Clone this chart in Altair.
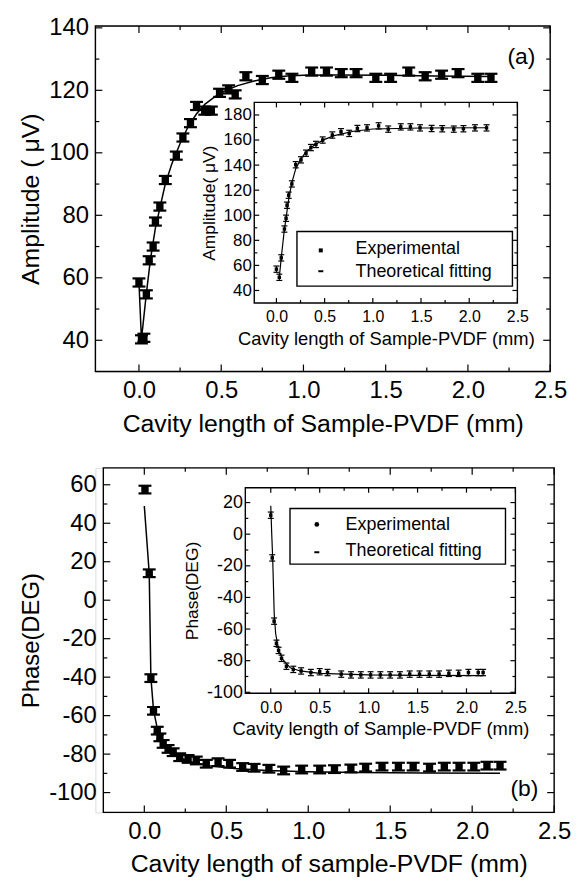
import altair as alt
import pandas as pd

FONT = "Liberation Sans"

# ---------------- data ----------------
# (a) main: amplitude (uV) vs cavity length (mm)
A_X = [0.0, 0.015, 0.03, 0.045, 0.062, 0.086, 0.10, 0.127, 0.16, 0.227, 0.267, 0.313, 0.35,
       0.40, 0.44, 0.49, 0.545, 0.585, 0.65, 0.75, 0.85, 0.93, 1.05, 1.14, 1.23, 1.32, 1.44,
       1.53, 1.64, 1.74, 1.84, 1.94, 2.06, 2.14]
A_Y = [58.5, 40.3, 40.8, 54.7, 65.6, 70.0, 78.0, 82.8, 91.3, 99.1, 104.9, 109.5, 115.0,
       113.5, 113.5, 119.2, 120.3, 118.7, 124.5, 123.3, 125.0, 124.0, 126.0, 126.0, 125.5, 125.5, 124.0,
       124.0, 126.0, 124.5, 125.0, 125.5, 124.0, 124.0]
A_ERR = 1.3
A_FIT_X = [0.0, 0.015, 0.045, 0.07, 0.10, 0.13, 0.16, 0.20, 0.25, 0.30, 0.35, 0.40, 0.45,
           0.50, 0.60, 0.70, 0.80, 0.90, 1.00, 1.20, 1.50, 1.80, 2.14]
A_FIT_Y = [58.5, 40.3, 55.0, 66.0, 76.0, 83.0, 90.0, 96.5, 103.0, 108.5, 112.5, 115.5, 117.5,
           119.3, 121.5, 123.0, 124.0, 124.6, 124.8, 124.9, 124.8, 124.6, 124.4]

# (a) inset
AI_X = [0.0, 0.03, 0.05, 0.083, 0.10, 0.11, 0.127, 0.16, 0.20, 0.255, 0.307, 0.358, 0.41, 0.48,
        0.58, 0.67, 0.755, 0.84, 0.94, 1.06, 1.16, 1.29, 1.39, 1.49, 1.61, 1.72, 1.84, 1.94, 2.06, 2.18]
AI_Y = [57.0, 50.5, 66.0, 89.0, 97.6, 108.0, 116.0, 125.0, 140.3, 144.2, 149.5, 154.0, 156.5, 160.0,
        164.0, 166.6, 165.3, 169.2, 169.7, 171.3, 168.7, 170.5, 170.5, 169.7, 169.2, 169.0, 168.7, 169.0, 169.7, 169.7]
AI_ERR = 2.5
AI_FIT_X = [0.03, 0.05, 0.08, 0.10, 0.13, 0.16, 0.20, 0.25, 0.30, 0.40, 0.50, 0.60, 0.80, 1.00, 1.50, 2.18]
AI_FIT_Y = [50.5, 66.0, 87.0, 98.0, 114.0, 126.0, 137.0, 144.5, 150.0, 156.5, 160.5, 163.5, 167.0, 168.8, 169.6, 169.8]

# (b) main: phase (deg) vs cavity length (mm)
B_X = [0.004, 0.03, 0.04, 0.056, 0.079, 0.095, 0.115, 0.145, 0.176, 0.216, 0.267, 0.317, 0.378,
       0.45, 0.52, 0.60, 0.67, 0.76, 0.85, 0.96, 1.07, 1.16, 1.26, 1.35, 1.45, 1.55, 1.64, 1.74,
       1.83, 1.92, 2.01, 2.09, 2.17]
B_Y = [57.5, 14.0, -40.5, -57.5, -67.8, -71.3, -74.7, -77.3, -79.0, -81.6, -82.5, -83.3, -85.0,
       -84.2, -85.0, -86.7, -87.1, -87.6, -88.5, -88.0, -88.0, -87.8, -87.5, -87.0, -86.5, -86.5, -86.5, -87.0,
       -86.5, -86.5, -86.5, -86.0, -86.0]
B_ERR = 2.0
B_FIT_X = [0.0, 0.03, 0.04, 0.056, 0.08, 0.10, 0.13, 0.17, 0.22, 0.30, 0.40, 0.55, 0.75, 1.0, 1.3, 1.7, 2.17]
B_FIT_Y = [49.0, 14.0, -40.0, -57.0, -67.0, -72.0, -76.5, -79.5, -82.0, -84.5, -86.0, -87.5, -88.5,
           -89.2, -89.6, -89.8, -90.0]

# (b) inset
BI_X = [0.0, 0.015, 0.034, 0.058, 0.08, 0.11, 0.16, 0.23, 0.31, 0.41, 0.50, 0.58, 0.72, 0.82, 0.92,
        1.02, 1.12, 1.22, 1.32, 1.42, 1.52, 1.62, 1.72, 1.82, 1.92, 2.02, 2.12, 2.17]
BI_Y = [12.0, -15.0, -55.0, -69.0, -73.5, -78.5, -83.5, -85.5, -86.5, -87.5, -87.0, -87.5, -88.5, -89.0,
        -89.0, -89.0, -89.0, -89.0, -89.0, -88.5, -88.5, -88.5, -88.5, -88.0, -88.0, -87.5, -87.5, -87.5]
BI_ERR = 2.0
BI_FIT_X = [0.0, 0.01, 0.02, 0.035, 0.05, 0.08, 0.12, 0.20, 0.30, 0.50, 1.00, 1.50, 2.17]
BI_FIT_Y = [18.0, 0.0, -16.0, -50.0, -63.0, -73.0, -79.0, -84.5, -86.5, -88.0, -89.0, -89.3, -89.5]

# tick values
X_MAJOR = [0.0, 0.5, 1.0, 1.5, 2.0, 2.5]
X_MINOR = [0.25, 0.75, 1.25, 1.75, 2.25]
A_Y_MAJOR = [40, 60, 80, 100, 120, 140]
A_Y_MINOR = [50, 70, 90, 110, 130]
AI_Y_MAJOR = [40, 60, 80, 100, 120, 140, 160, 180]
AI_Y_MINOR = [50, 70, 90, 110, 130, 150, 170]
B_Y_MAJOR = [-100, -80, -60, -40, -20, 0, 20, 40, 60]
B_Y_MINOR = [-90, -70, -50, -30, -10, 10, 30, 50]
BI_Y_MAJOR = [-100, -80, -60, -40, -20, 0, 20]
BI_Y_MINOR = [-90, -70, -50, -30, -10, 10]

LEGEND_LABELS = ["Experimental", "Theoretical fitting"]

ONE = pd.DataFrame({"k": [0]})
HYPHEN = "replace(datum.label, '\u2212', '-')"


def err_df(xs, ys, e):
    return pd.DataFrame({"x": xs, "y": ys,
                         "lo": [v - e for v in ys], "hi": [v + e for v in ys]})


def fit_df(xs, ys):
    return pd.DataFrame({"x": xs, "y": ys})


def box(x0, x1, y0, y1, fill="white", opacity=1.0):
    return alt.Chart(ONE).mark_rect(fill=fill, fillOpacity=opacity, stroke="black",
                                    strokeWidth=1.4).encode(
        x=alt.value(x0), x2=alt.value(x1), y=alt.value(y0), y2=alt.value(y1))


def tick_layers(xs, ys, xa, ya, xmaj, xmin, ymaj, ymin, x0, x1, y0, y1, lmaj, lmin):
    out = []
    for vals, L in ((xmaj, lmaj), (xmin, lmin)):
        c = alt.Chart(pd.DataFrame({"v": vals})).mark_rule(color="black", strokeWidth=1.2)
        out.append(c.encode(x=alt.X("v:Q", scale=xs, axis=xa), y=alt.value(y1), y2=alt.value(y1 - L)))
        out.append(c.encode(x=alt.X("v:Q", scale=xs, axis=xa), y=alt.value(y0), y2=alt.value(y0 + L)))
    for vals, L in ((ymaj, lmaj), (ymin, lmin)):
        c = alt.Chart(pd.DataFrame({"v": vals})).mark_rule(color="black", strokeWidth=1.2)
        out.append(c.encode(y=alt.Y("v:Q", scale=ys, axis=ya), x=alt.value(x0), x2=alt.value(x0 + L)))
        out.append(c.encode(y=alt.Y("v:Q", scale=ys, axis=ya), x=alt.value(x1), x2=alt.value(x1 - L)))
    return out


def data_layers(df, fit, xs, ys, xa, ya, msize, cap, lw, capw):
    base = alt.Chart(df)
    ex = alt.X("x:Q", scale=xs, axis=xa)
    line = alt.Chart(fit).mark_line(color="black", strokeWidth=lw).encode(
        x=ex, y=alt.Y("y:Q", scale=ys, axis=ya))
    bars = base.mark_rule(color="black", strokeWidth=capw).encode(
        x=ex, y=alt.Y("lo:Q", scale=ys, axis=ya), y2="hi:Q")
    clo = base.mark_tick(orient="horizontal", size=cap, thickness=capw, color="black", opacity=1).encode(
        x=ex, y=alt.Y("lo:Q", scale=ys, axis=ya))
    chi = base.mark_tick(orient="horizontal", size=cap, thickness=capw, color="black", opacity=1).encode(
        x=ex, y=alt.Y("hi:Q", scale=ys, axis=ya))
    pts = base.mark_point(shape="square", filled=True, size=msize, color="black", opacity=1).encode(
        x=ex, y=alt.Y("y:Q", scale=ys, axis=ya))
    return [line, bars, clo, chi, pts]


def axis(orient, values, title, lsize, tsize, lpad, tpad, offset=0, fmt=None):
    kw = dict(orient=orient, values=values, title=title, domain=False, ticks=False, grid=False,
              labelFontSize=lsize, titleFontSize=tsize, labelPadding=lpad, titlePadding=tpad,
              labelFont=FONT, titleFont=FONT, labelColor="black", titleColor="black",
              titleFontWeight="normal", labelFlush=False, labelOverlap=False, offset=offset,
              labelExpr=HYPHEN)
    if fmt:
        kw["format"] = fmt
    return alt.Axis(**kw)


def panel(W, H, m, ins, leg, tag):
    # main group
    mxs = alt.Scale(domain=m["xdom"], range=[m["x0"], m["x1"]], nice=False, zero=False)
    mys = alt.Scale(domain=m["ydom"], range=[H, 0], nice=False, zero=False)
    mxa = axis("bottom", X_MAJOR, m["xtitle"], 24, 25, 7, 9, fmt=".1f")
    mya = axis("left", m["ymaj"], m["ytitle"], 24, m["ytsize"], 7, 5, offset=-m["x0"])
    main = [box(m["x0"], m["x1"], 0, H, fill="white", opacity=0)]
    main += tick_layers(mxs, mys, mxa, mya, X_MAJOR, X_MINOR, m["ymaj"], m["ymin"],
                        m["x0"], m["x1"], 0, H, 7, 4)
    main += data_layers(m["df"], m["fit"], mxs, mys, mxa, mya, 55, 13, 1.5, 2.2)
    main.append(alt.Chart(ONE).mark_text(text=tag, fontSize=23, font=FONT, color="black",
                                         align="center", baseline="middle").encode(
        x=alt.value(m["tag_x"]), y=alt.value(m["tag_y"])))
    main_group = alt.layer(*main)

    # inset group
    ix0, ix1, iy0, iy1 = ins["box"]
    ixs = alt.Scale(domain=ins["xdom"], range=[ix0, ix1], nice=False, zero=False)
    iys = alt.Scale(domain=ins["ydom"], range=[iy1, iy0], nice=False, zero=False)
    ixa = axis("bottom", X_MAJOR, "Cavity length of Sample-PVDF (mm)", 16, 18.5, 6, 5,
               offset=-(H - iy1), fmt=".1f")
    iya = axis("left", ins["ymaj"], ins["ytitle"], ins["ylsize"], 17.5, 3, 5, offset=-ix0)
    inset = [box(ix0, ix1, iy0, iy1, fill="white", opacity=1)]
    inset += tick_layers(ixs, iys, ixa, iya, X_MAJOR, X_MINOR, ins["ymaj"], ins["ymin"],
                         ix0, ix1, iy0, iy1, 5, 3)
    inset += data_layers(ins["df"], ins["fit"], ixs, iys, ixa, iya, 12, 6, 1.2, 1.2)
    lx0, lx1, ly0, ly1 = leg["box"]
    inset.append(box(lx0, lx1, ly0, ly1, fill="white", opacity=1))
    sx, s1, s2 = leg["sym"]
    inset.append(alt.Chart(ONE).mark_point(shape=leg["shape"], filled=True, size=leg["ssize"],
                                           color="black", opacity=1).encode(
        x=alt.value(sx), y=alt.value(s1)))
    inset.append(alt.Chart(ONE).mark_rule(color="black", strokeWidth=2).encode(
        x=alt.value(sx - 2.5), x2=alt.value(sx + 2.5), y=alt.value(s2)))
    tx, t1, t2 = leg["text"]
    for lab, ty in zip(LEGEND_LABELS, (t1, t2)):
        inset.append(alt.Chart(ONE).mark_text(text=lab, fontSize=18, font=FONT, color="black",
                                              align="left", baseline="middle").encode(
            x=alt.value(tx), y=alt.value(ty)))
    inset_group = alt.layer(*inset)

    return alt.layer(main_group, inset_group).resolve_scale(
        x="independent", y="independent").properties(width=W, height=H)


top = panel(
    458, 348,
    dict(df=err_df(A_X, A_Y, A_ERR), fit=fit_df(A_FIT_X, A_FIT_Y), x0=0, x1=458,
         xdom=[-0.265, 2.5], ydom=[30, 140.6], ymaj=A_Y_MAJOR, ymin=A_Y_MINOR,
         xtitle="Cavity length of Sample-PVDF (mm)", ytitle="Amplitude ( \u03bcV)", ytsize=25,
         tag_x=429, tag_y=31),
    dict(df=err_df(AI_X, AI_Y, AI_ERR), fit=fit_df(AI_FIT_X, AI_FIT_Y), box=(160, 425, 77, 279),
         xdom=[-0.23, 2.5], ydom=[30, 190], ymaj=AI_Y_MAJOR, ymin=AI_Y_MINOR,
         ytitle="Amplitude( \u03bcV)", ylsize=17),
    dict(box=(203, 420, 207, 262), sym=(227, 226, 247), shape="square", ssize=16,
         text=(262, 225, 248)),
    "(a)")

bottom = panel(
    462, 347,
    dict(df=err_df(B_X, B_Y, B_ERR), fit=fit_df(B_FIT_X, B_FIT_Y), x0=8, x1=462,
         xdom=[-0.25, 2.5], ydom=[-110.3, 68.8], ymaj=B_Y_MAJOR, ymin=B_Y_MINOR,
         xtitle="Cavity length of sample-PVDF (mm)", ytitle="Phase(DEG)", ytsize=24,
         tag_x=432, tag_y=323),
    dict(df=err_df(BI_X, BI_Y, BI_ERR), fit=fit_df(BI_FIT_X, BI_FIT_Y), box=(151, 423, 20, 227),
         xdom=[-0.26, 2.5], ydom=[-100.6, 29.4], ymaj=BI_Y_MAJOR, ymin=BI_Y_MINOR,
         ytitle="Phase(DEG)", ylsize=18),
    dict(box=(196, 413, 41, 97), sym=(223, 57, 85), shape="circle", ssize=22,
         text=(252, 58, 84)),
    "(b)")

chart = alt.vconcat(top, bottom, spacing=29).properties(
    padding={"left": 10, "top": 4, "right": 2, "bottom": 2}
).configure_view(strokeWidth=0).configure(font=FONT, background="white")

chart.save("out.html", embed_options={"renderer": "svg", "actions": False})
